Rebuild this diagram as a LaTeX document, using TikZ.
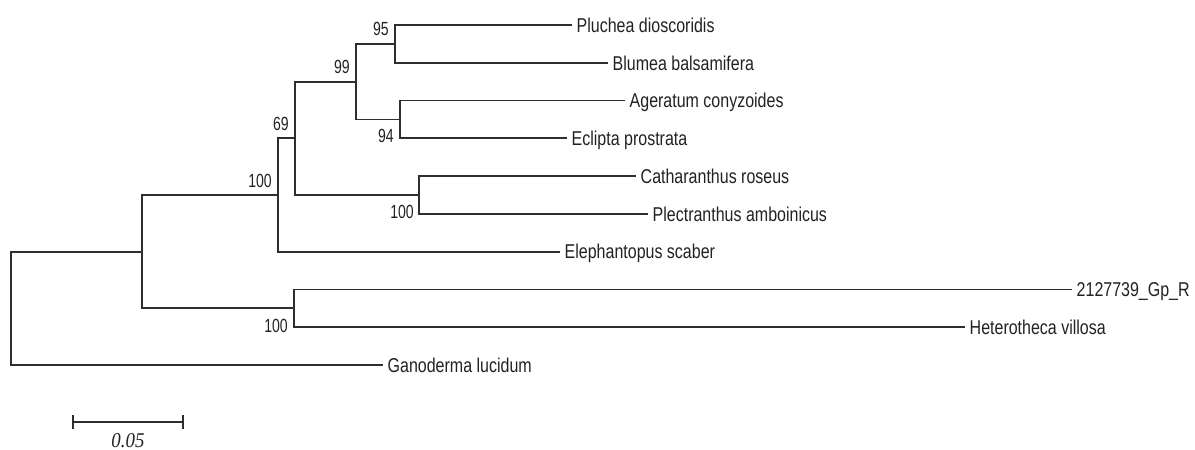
\documentclass[tikz,border=0pt]{standalone}
\usepackage{fontspec}
\setmainfont{Liberation Sans}
\newfontfamily\tipfont[FakeStretch=0.8]{Liberation Sans}
\newfontfamily\bootfont[FakeStretch=0.74]{Liberation Sans}
\newfontfamily\barfont[FakeStretch=0.9]{Liberation Serif}
\usetikzlibrary{positioning,calc,arrows.meta}

\definecolor{branchgray}{HTML}{2E2E2E}
\definecolor{labelgray}{HTML}{222222}

\begin{document}
\begin{tikzpicture}[
            x=1pt, y=-1pt,
            branch/.style={draw=branchgray, line width=1.7pt},
            taxon/.style={anchor=west, inner xsep=4.5pt, inner ysep=0pt, text height=14.5pt, text depth=0pt, text=labelgray, font=\tipfont\fontsize{20}{22}\selectfont},
            boot/.style={inner sep=0pt, text=labelgray, font=\bootfont\fontsize{19}{21}\selectfont},
            scalebar/.style={draw=branchgray, line width=1.7pt, {Bar[width=14pt]}-{Bar[width=14pt]}}
        ]
            \useasboundingbox (0,0) rectangle (1195,450);

            % internal nodes of the tree
            \coordinate (root) at (11,308.1);
            \coordinate (ingroup) at (142,251.7);
            \coordinate (core) at (278,195.0);
            \coordinate (upper) at (295,138.3);
            \coordinate (aster) at (356,81.7);
            \coordinate (pluchblum) at (395,43.9);
            \coordinate (agereclip) at (400,119.4);
            \coordinate (cathplec) at (419,195.0);
            \coordinate (gpherter) at (294,308.3);

            % taxa
            \node[taxon] (pluchea) at (572,25.0) {Pluchea dioscoridis};
            \node[taxon] (blumea) at (608,62.8) {Blumea balsamifera};
            \node[taxon] (ageratum) at (625,100.6) {Ageratum conyzoides};
            \node[taxon] (eclipta) at (567,138.3) {Eclipta prostrata};
            \node[taxon] (catharanthus) at (636,176.1) {Catharanthus roseus};
            \node[taxon] (plectranthus) at (648,213.9) {Plectranthus amboinicus};
            \node[taxon] (elephantopus) at (560,251.7) {Elephantopus scaber};
            \node[taxon] (gpr) at (1072,289.4) {2127739\_Gp\_R};
            \node[taxon] (heterotheca) at (965,327.2) {Heterotheca villosa};
            \node[taxon] (ganoderma) at (383,365.0) {Ganoderma lucidum};

            % branches
            \draw[branch] (root) |- (ingroup);
            \draw[branch] (root) |- (ganoderma);
            \draw[branch] (ingroup) |- (core);
            \draw[branch] (ingroup) |- (gpherter);
            \draw[branch] (core) |- (upper);
            \draw[branch] (core) |- (elephantopus);
            \draw[branch] (upper) |- (aster);
            \draw[branch] (upper) |- (cathplec);
            \draw[branch] (aster) |- (pluchblum);
            \draw[branch] (aster) |- (agereclip);
            \draw[branch] (pluchblum) |- (pluchea);
            \draw[branch] (pluchblum) |- (blumea);
            \draw[branch] (agereclip) |- (ageratum);
            \draw[branch] (agereclip) |- (eclipta);
            \draw[branch] (cathplec) |- (catharanthus);
            \draw[branch] (cathplec) |- (plectranthus);
            \draw[branch] (gpherter) |- (gpr);
            \draw[branch] (gpherter) |- (heterotheca);

            % bootstrap values
            \node[boot, anchor=base east] (bs95) at ($(pluchblum)+(-6,-8)$) {95};
            \node[boot, anchor=base east] (bs99) at ($(aster)+(-6,-8)$) {99};
            \node[boot, anchor=base east] (bs69) at ($(upper)+(-6,-8)$) {69};
            \node[boot, anchor=base east] (bs100a) at ($(core)+(-6,-8)$) {100};
            \node[boot, anchor=base east] (bs94) at ($(agereclip)+(-6,23.5)$) {94};
            \node[boot, anchor=base east] (bs100b) at ($(cathplec)+(-5,23)$) {100};
            \node[boot, anchor=base east] (bs100c) at ($(gpherter)+(-6,24.5)$) {100};

            % scale bar
            \coordinate (sbleft) at (72,422);
            \coordinate (sbright) at (184,422);
            \draw[scalebar] (sbleft) -- (sbright);
            \node[anchor=base, inner sep=0pt, text=labelgray, font=\barfont\itshape\fontsize{21}{23}\selectfont] (sblabel) at ($(sbleft)!0.5!(sbright)+(0,25)$) {0.05};
        \end{tikzpicture}
\end{document}
